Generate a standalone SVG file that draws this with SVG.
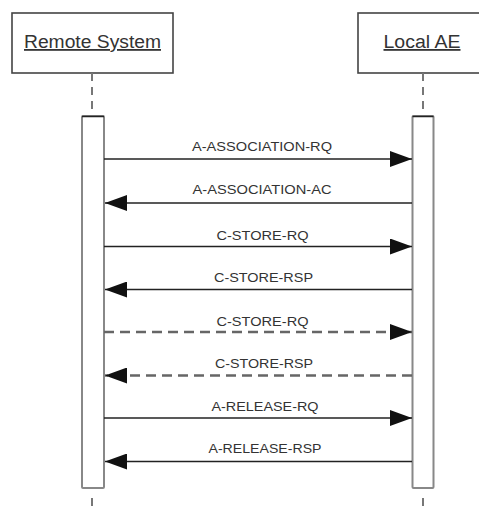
<svg xmlns="http://www.w3.org/2000/svg" width="479" height="510" viewBox="0 0 479 510">
<style>
.box{fill:#fff;stroke:#444;stroke-width:1.6}
.title{font-family:"Liberation Sans",Arial,sans-serif;font-size:18px;fill:#333;text-anchor:middle;text-decoration:underline}
.life{stroke:#777;stroke-width:2;stroke-dasharray:8 6;fill:none}
.act{fill:#fff;stroke:#888;stroke-width:2}
.acttop{stroke:#222;stroke-width:1.5}
.msg{stroke:#222;stroke-width:1.6;fill:none}
.dmsg{stroke:#666;stroke-width:2.5;stroke-dasharray:10 6;fill:none}
.lbl{font-family:"Liberation Sans",Arial,sans-serif;font-size:13px;fill:#333;text-anchor:middle}
</style>
<defs>
<marker id="ah" viewBox="0 0 22 16" refX="22" refY="8" markerWidth="22" markerHeight="16" markerUnits="userSpaceOnUse" orient="auto">
<path d="M0,0 L22,8 L0,16 Z" fill="#111"/>
</marker>
</defs>
<rect width="479" height="510" fill="#fff"/>
<g id="remote-system">
<rect class="box" x="12" y="13" width="161" height="60"/>
<text class="title" x="92.5" y="48" textLength="137" lengthAdjust="spacingAndGlyphs">Remote System</text>
<line class="life" x1="92" y1="73" x2="92" y2="116"/>
<line class="life" x1="92" y1="498" x2="92" y2="512"/>
<rect class="act" x="82" y="116" width="22" height="372" rx="1"/>
<line class="acttop" x1="82" y1="116.5" x2="104" y2="116.5"/>
</g>
<g id="local-ae">
<rect class="box" x="358" y="13" width="130" height="60"/>
<text class="title" x="422" y="48" textLength="77" lengthAdjust="spacingAndGlyphs">Local AE</text>
<line class="life" x1="423" y1="73" x2="423" y2="116"/>
<line class="life" x1="423" y1="498" x2="423" y2="512"/>
<rect class="act" x="412.5" y="116" width="21" height="372" rx="1"/>
<line class="acttop" x1="412.5" y1="116.5" x2="433.5" y2="116.5"/>
</g>
<g id="connectors">
<line class="msg" x1="104" y1="159" x2="412" y2="159" marker-end="url(#ah)"/>
<line class="msg" x1="412" y1="203" x2="105" y2="203" marker-end="url(#ah)"/>
<line class="msg" x1="104" y1="246.5" x2="412" y2="246.5" marker-end="url(#ah)"/>
<line class="msg" x1="412" y1="289.5" x2="105" y2="289.5" marker-end="url(#ah)"/>
<line class="dmsg" x1="104" y1="332" x2="412" y2="332" marker-end="url(#ah)"/>
<line class="dmsg" x1="412" y1="375.5" x2="105" y2="375.5" marker-end="url(#ah)"/>
<line class="msg" x1="104" y1="418" x2="412" y2="418" marker-end="url(#ah)"/>
<line class="msg" x1="412" y1="461.5" x2="105" y2="461.5" marker-end="url(#ah)"/>
</g>
<g id="labels">
<text class="lbl" x="262" y="151" textLength="140" lengthAdjust="spacingAndGlyphs">A-ASSOCIATION-RQ</text>
<text class="lbl" x="262" y="194" textLength="139" lengthAdjust="spacingAndGlyphs">A-ASSOCIATION-AC</text>
<text class="lbl" x="262.5" y="239.5" textLength="92" lengthAdjust="spacingAndGlyphs">C-STORE-RQ</text>
<text class="lbl" x="263.5" y="281.5" textLength="99" lengthAdjust="spacingAndGlyphs">C-STORE-RSP</text>
<text class="lbl" x="262.5" y="325.5" textLength="92" lengthAdjust="spacingAndGlyphs">C-STORE-RQ</text>
<text class="lbl" x="264" y="368" textLength="98" lengthAdjust="spacingAndGlyphs">C-STORE-RSP</text>
<text class="lbl" x="265" y="411" textLength="107" lengthAdjust="spacingAndGlyphs">A-RELEASE-RQ</text>
<text class="lbl" x="265" y="453" textLength="113" lengthAdjust="spacingAndGlyphs">A-RELEASE-RSP</text>
</g>
</svg>
